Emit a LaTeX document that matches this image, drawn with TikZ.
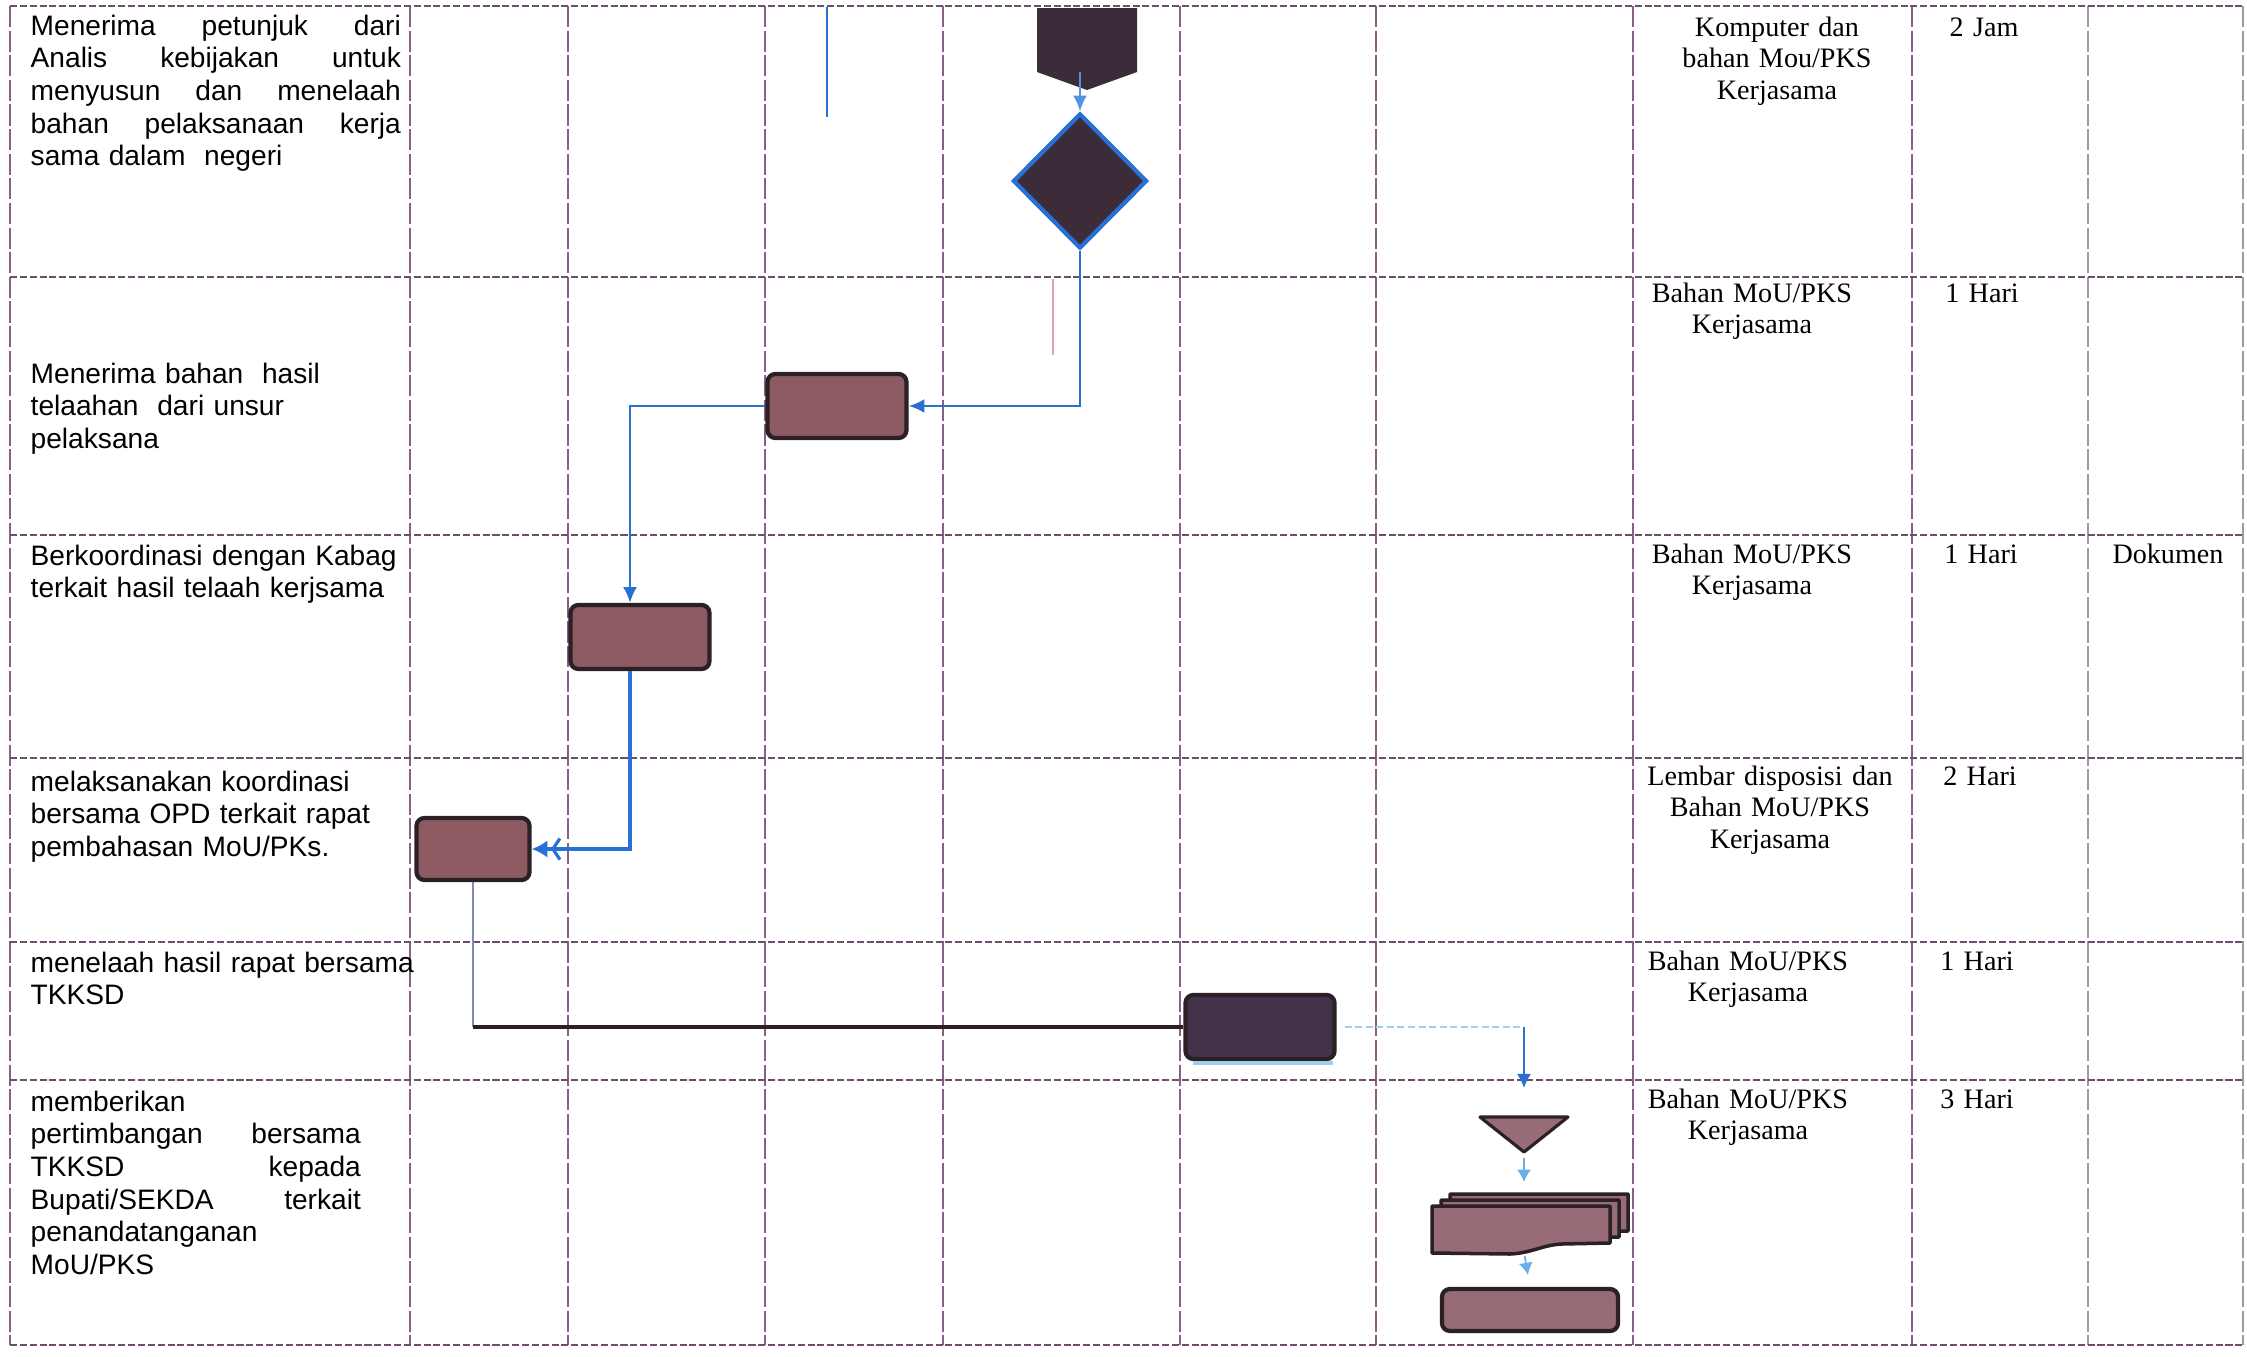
\documentclass[tikz,border=0pt]{standalone}
\usepackage{fontspec}
\setmainfont{Liberation Serif}
\newfontfamily\sansf{Liberation Sans}
\usetikzlibrary{arrows.meta,shapes.geometric,calc}

\definecolor{gridc}{RGB}{110,78,110}
\definecolor{vgridc}{RGB}{140,95,135}
\definecolor{gridlight}{RGB}{165,150,165}
\definecolor{edgec}{RGB}{42,32,38}
\definecolor{mauve}{RGB}{142,90,98}
\definecolor{mauvelight}{RGB}{152,108,118}
\definecolor{darkfill}{RGB}{60,43,56}
\definecolor{plumdark}{RGB}{68,50,74}
\definecolor{bluec}{RGB}{40,112,212}
\definecolor{lightblue}{RGB}{105,175,236}
\definecolor{paleblue}{RGB}{160,205,240}
\definecolor{pinkline}{RGB}{228,160,178}

% one justified line of a fixed width; words are separated by \hfill
\newcommand{\jline}[2]{\makebox[#1]{#2}}

\begin{document}
\begin{tikzpicture}[x=0.01cm,y=-0.01cm,
  vgrid/.style={draw=vgridc, line width=0.3pt, dash pattern=on 6pt off 1pt},
  hgrid/.style={draw=gridc, line width=0.5pt, dash pattern=on 2pt off 0.8pt},
  lefttxt/.style={font=\sansf\fontsize{8pt}{9.3pt}\selectfont, text width=4.2cm,
    align=left, inner sep=0, anchor=base west},
  righttxt/.style={font=\fontsize{8pt}{9pt}\selectfont, text width=2.7cm,
    align=center, inner sep=0, anchor=base},
  procbox/.style={rectangle, rounded corners=0.08cm, draw=edgec, line width=1.2pt,
    fill=mauve, inner sep=0},
  decision/.style={diamond, aspect=1, minimum width=1.34cm, minimum height=1.35cm,
    inner sep=0, fill=darkfill, draw=bluec, line width=1.2pt},
  flow/.style={draw=bluec, line width=0.7pt, -{Latex[length=4.5pt,width=4pt]}},
  flowdouble/.style={draw=bluec, line width=0.9pt,
    -{Straight Barb[length=2pt,width=6pt,sep=1pt] Latex[length=4.5pt,width=5pt]}},
  flowthin/.style={draw=bluec, line width=0.45pt, -{Latex[length=4pt,width=4pt]}},
  lightflow/.style={draw=lightblue, line width=0.5pt, -{Latex[length=3.5pt,width=4pt]}},
  thinlink/.style={draw=gridlight!70!bluec, line width=0.4pt},
  heavylink/.style={draw=edgec, line width=1.2pt},
  faintlink/.style={draw=paleblue, line width=0.5pt, dash pattern=on 2pt off 1pt},
  merge/.style={fill=mauvelight, draw=edgec, line width=0.9pt, line join=round},
  docshape/.style={fill=mauvelight, draw=edgec, line width=1pt, line join=round}]

\useasboundingbox (0,0) rectangle (2247,1357);

% table grid
\foreach \gx in {10,410,568,765,943,1180,1376,1633,1912}
  \draw[vgrid] (\gx,6) -- (\gx,1345);
\foreach \gx in {2088,2243}
  \draw[vgrid, draw=gridlight] (\gx,6) -- (\gx,1345);
\foreach \gy in {6,277,535,758,942,1080,1345}
  \draw[hgrid] (10,\gy) -- (2243,\gy);

% activity descriptions
\node[lefttxt] (s1) at (30,35) {\jline{3.7cm}{Menerima\hfill petunjuk\hfill dari}\\
  \jline{3.7cm}{Analis\hfill kebijakan\hfill untuk}\\
  \jline{3.7cm}{menyusun\hfill dan\hfill menelaah}\\
  \jline{3.7cm}{bahan\hfill pelaksanaan\hfill kerja}\\
  sama dalam\ \ negeri};
\node[lefttxt] (s2) at (30,383) {Menerima bahan\ \ hasil\\telaahan\ \ dari unsur\\pelaksana};
\node[lefttxt] (s3) at (30,565) {Berkoordinasi dengan Kabag\\terkait hasil telaah kerjsama};
\node[lefttxt] (s4) at (30,791) {melaksanakan koordinasi\\bersama OPD terkait rapat\\pembahasan MoU/PKs.};
\node[lefttxt] (s5) at (30,972) {menelaah hasil rapat bersama\\TKKSD};
\node[lefttxt] (s6) at (30,1111) {memberikan\\
  \jline{3.3cm}{pertimbangan\hfill bersama}\\
  \jline{3.3cm}{TKKSD\hfill kepada}\\
  \jline{3.3cm}{Bupati/SEKDA\hfill terkait}\\
  penandatanganan\\MoU/PKS};

% requirements, time and output
\node[righttxt] (k1) at (1777,36) {Komputer dan\\bahan Mou/PKS\\Kerjasama};
\node[righttxt] (k2) at (1752,302) {Bahan MoU/PKS\\Kerjasama};
\node[righttxt] (k3) at (1752,563) {Bahan MoU/PKS\\Kerjasama};
\node[righttxt] (k4) at (1770,785) {Lembar disposisi dan\\Bahan MoU/PKS\\Kerjasama};
\node[righttxt] (k5) at (1748,970) {Bahan MoU/PKS\\Kerjasama};
\node[righttxt] (k6) at (1748,1108) {Bahan MoU/PKS\\Kerjasama};
\node[righttxt] (w1) at (1984,36) {2 Jam};
\node[righttxt] (w2) at (1982,302) {1 Hari};
\node[righttxt] (w3) at (1981,563) {1 Hari};
\node[righttxt] (w4) at (1980,785) {2 Hari};
\node[righttxt] (w5) at (1977,970) {1 Hari};
\node[righttxt] (w6) at (1977,1108) {3 Hari};
\node[righttxt] (o3) at (2168,563) {Dokumen};

% stray marks in the lanes
\draw[draw=bluec, line width=0.6pt] (827,7) -- (827,117);
\draw[draw=pinkline, line width=0.4pt] (1053,279) -- (1053,355);

% off-page connector
\fill[darkfill] (1037,8) -- (1137,8) -- (1137,72) -- (1087,90) -- (1037,72) -- cycle;
\coordinate (pentout) at (1080,72);

% decision
\node[decision] (dia) at (1080,181) {};
\draw[flow, draw=lightblue!60!bluec] (pentout) -- (dia.north);

% process boxes
\node[procbox, minimum width=1.39cm, minimum height=0.64cm] (b1) at (837,406) {};
\node[procbox, minimum width=1.39cm, minimum height=0.64cm] (b2) at (640,637) {};
\node[procbox, minimum width=1.13cm, minimum height=0.62cm] (b3) at (473,849) {};
\node[procbox, fill=plumdark, minimum width=1.49cm, minimum height=0.64cm] (b4) at (1260,1027) {};
\node[procbox, fill=mauvelight, minimum width=1.76cm, minimum height=0.42cm] (b5) at (1530,1310) {};
\draw[draw=paleblue, line width=1pt] (1193,1063) -- (1333,1063);

% connectors
\draw[flow] (dia.south) |- (b1.east);
\draw[flow] (b1.west) -| ([xshift=-0.1cm]b2.north);
\draw[flowdouble] ([xshift=-0.1cm]b2.south) |- (b3.east);
\coordinate (bend) at (b3.south |- b4.west);
\draw[thinlink] (b3.south) -- (bend);
\draw[heavylink] (bend) -- (b4.west);
\coordinate (drop) at (1524,1088);
\draw[faintlink] ([xshift=0.08cm]b4.east) -- (drop |- b4.east);
\draw[flowthin] (drop |- b4.east) -- (drop);

% merge
\coordinate (tritip) at (1524,1152);
\filldraw[merge] (1480,1117) -- (1568,1117) -- (tritip) -- cycle;

% multi-document
\foreach \dx/\dy in {18/-12, 9/-6, 0/0}{
  \begin{scope}[shift={(1432+\dx,1206+\dy)}]
    \filldraw[docshape] (0,0) -- (178,0) -- (178,37) -- (130,38)
      .. controls (110,39) and (100,47) .. (78,48) -- (0,47) -- cycle;
  \end{scope}
}
\coordinate (doctop) at (1524,1206);
\coordinate (docbot) at (1524,1252);

\draw[lightflow, shorten <=0.06cm, shorten >=0.24cm] (tritip) -- (doctop);
\draw[lightflow, shorten <=0.04cm, shorten >=0.12cm] (docbot) -- (b5.north);

\end{tikzpicture}
\end{document}
